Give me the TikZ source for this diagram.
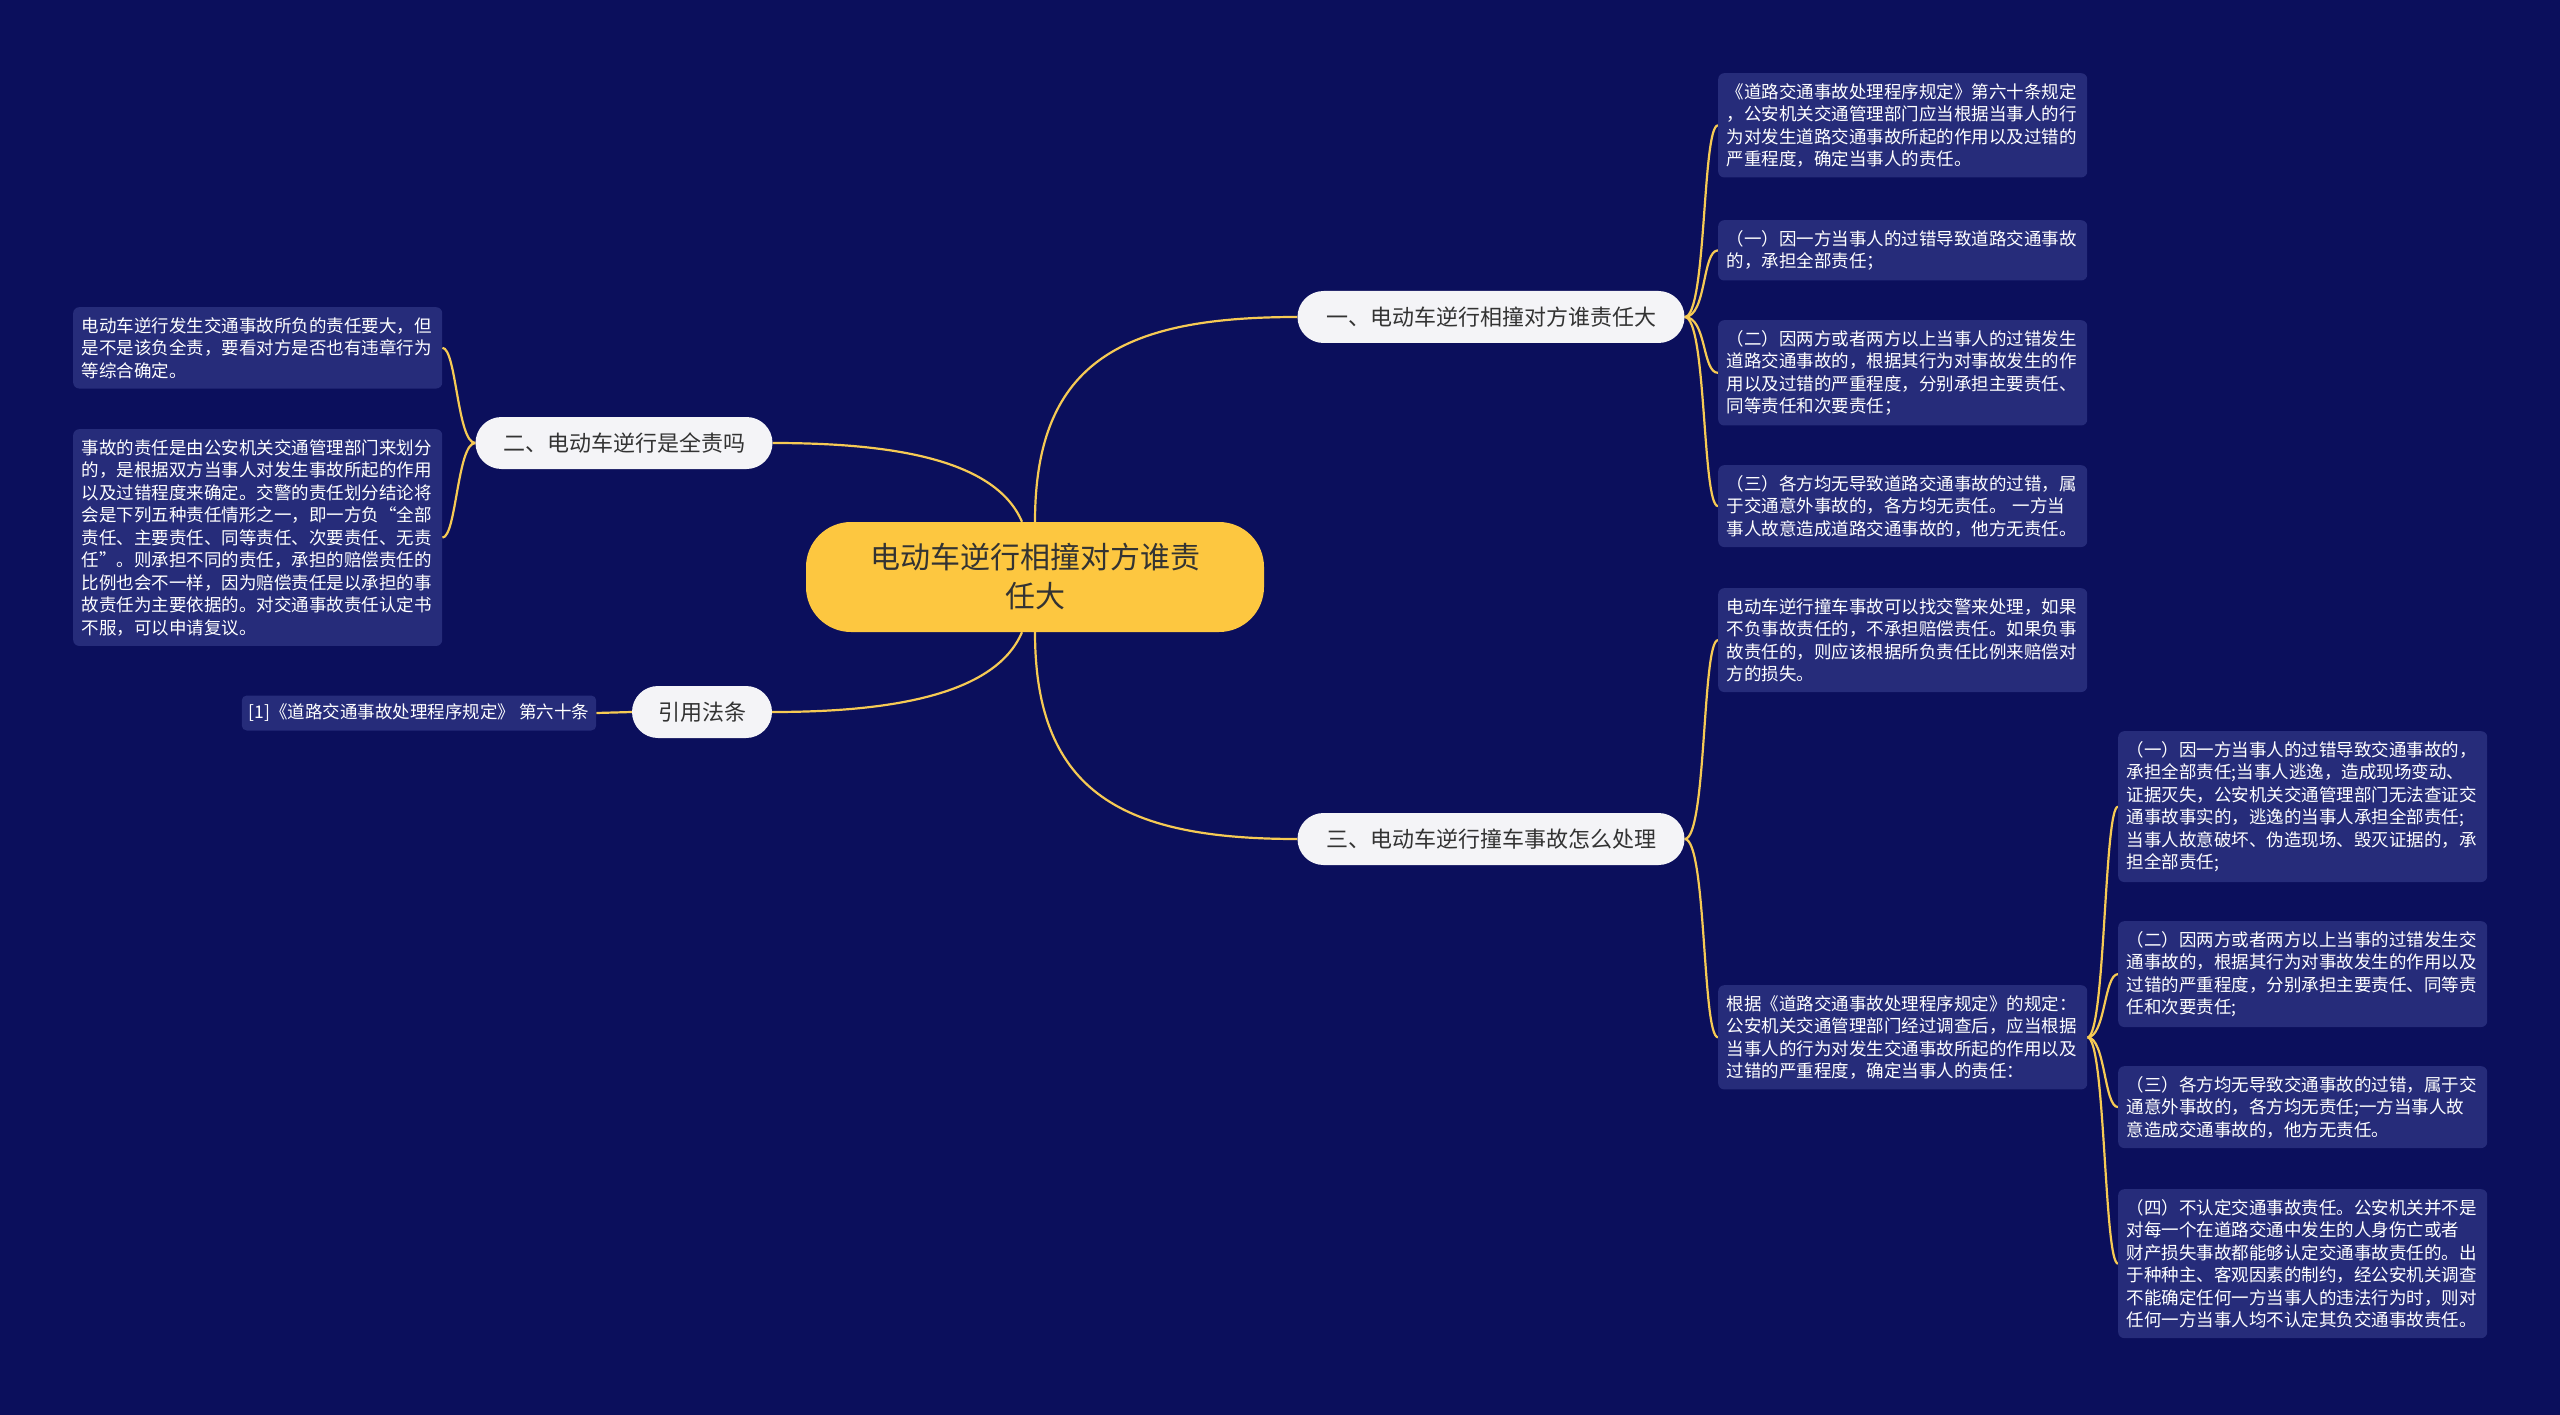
\documentclass[tikz,border=0pt]{standalone}
\usepackage{tikz}
\usepackage{fontspec}
\setmainfont{Noto Sans CJK SC}
\pgfdeclarelayer{back}
\pgfdeclarelayer{edges}
\pgfsetlayers{back,edges,main}
\definecolor{bgnavy}{RGB}{11,15,92}
\definecolor{leafcol}{RGB}{38,44,122}
\definecolor{goldline}{RGB}{246,202,84}
\definecolor{centralcol}{RGB}{253,199,64}
\definecolor{pillcol}{RGB}{244,244,247}
\definecolor{inkcol}{RGB}{51,51,51}
\begin{document}
\begin{tikzpicture}[x=1pt,y=-1pt,
  leafbox/.style={fill=leafcol, rounded corners=6pt, text=white, anchor=north west,
    text width=352pt, inner xsep=8.5pt, inner ysep=10pt, align=left,
    font=\fontsize{17.5}{22.5}\selectfont},
  pillbox/.style={fill=pillcol, rounded corners=26pt, text=inkcol, minimum height=52pt,
    inner xsep=0pt, font=\fontsize{22}{26}\selectfont},
  conn/.style={draw=goldline, line width=2.2pt},
]
\begin{pgfonlayer}{back}
\fill[bgnavy] (0,0) rectangle (2560,1415);
\end{pgfonlayer}
\useasboundingbox (0,0) rectangle (2560,1415);

% central
\node[fill=centralcol, rounded corners=45pt, minimum width=458pt, minimum height=110pt,
  align=center, text=inkcol, font=\fontsize{30}{39}\selectfont] (c) at (1035,577)
  {电动车逆行相撞对方谁责\\任大};

% main branches
\node[pillbox, minimum width=387pt] (b1) at (1491,317) {一、电动车逆行相撞对方谁责任大};
\node[pillbox, minimum width=297pt] (b2) at (624,443) {二、电动车逆行是全责吗};
\node[pillbox, minimum width=140pt] (b4) at (702,712) {引用法条};
\node[pillbox, minimum width=387pt] (b3) at (1491,839) {三、电动车逆行撞车事故怎么处理};

% branch 1 children
\node[leafbox] (r1) at (1718,73) {《道路交通事故处理程序规定》第六十条规定\\，公安机关交通管理部门应当根据当事人的行\\为对发生道路交通事故所起的作用以及过错的\\严重程度，确定当事人的责任。};
\node[leafbox] (r2) at (1718,220) {（一）因一方当事人的过错导致道路交通事故\\的，承担全部责任；};
\node[leafbox] (r3) at (1718,320) {（二）因两方或者两方以上当事人的过错发生\\道路交通事故的，根据其行为对事故发生的作\\用以及过错的严重程度，分别承担主要责任、\\同等责任和次要责任；};
\node[leafbox] (r4) at (1718,465) {（三）各方均无导致道路交通事故的过错，属\\于交通意外事故的，各方均无责任。 一方当\\事人故意造成道路交通事故的，他方无责任。};

% branch 3 children
\node[leafbox] (r5) at (1718,588) {电动车逆行撞车事故可以找交警来处理，如果\\不负事故责任的，不承担赔偿责任。如果负事\\故责任的，则应该根据所负责任比例来赔偿对\\方的损失。};
\node[leafbox] (r6) at (1718,985) {根据《道路交通事故处理程序规定》的规定：\\公安机关交通管理部门经过调查后，应当根据\\当事人的行为对发生交通事故所起的作用以及\\过错的严重程度，确定当事人的责任：};

% r6 children
\node[leafbox] (s1) at (2118,731) {（一）因一方当事人的过错导致交通事故的，\\承担全部责任;当事人逃逸，造成现场变动、\\证据灭失，公安机关交通管理部门无法查证交\\通事故事实的，逃逸的当事人承担全部责任;\\当事人故意破坏、伪造现场、毁灭证据的，承\\担全部责任;};
\node[leafbox] (s2) at (2118,921) {（二）因两方或者两方以上当事的过错发生交\\通事故的，根据其行为对事故发生的作用以及\\过错的严重程度，分别承担主要责任、同等责\\任和次要责任;};
\node[leafbox] (s3) at (2118,1066) {（三）各方均无导致交通事故的过错，属于交\\通意外事故的，各方均无责任;一方当事人故\\意造成交通事故的，他方无责任。};
\node[leafbox] (s4) at (2118,1189) {（四）不认定交通事故责任。公安机关并不是\\对每一个在道路交通中发生的人身伤亡或者\\财产损失事故都能够认定交通事故责任的。出\\于种种主、客观因素的制约，经公安机关调查\\不能确定任何一方当事人的违法行为时，则对\\任何一方当事人均不认定其负交通事故责任。};

% branch 2 children
\node[leafbox] (l1) at (73,307) {电动车逆行发生交通事故所负的责任要大，但\\是不是该负全责，要看对方是否也有违章行为\\等综合确定。};
\node[leafbox] (l2) at (73,429) {事故的责任是由公安机关交通管理部门来划分\\的，是根据双方当事人对发生事故所起的作用\\以及过错程度来确定。交警的责任划分结论将\\会是下列五种责任情形之一，即一方负“全部\\责任、主要责任、同等责任、次要责任、无责\\任”。则承担不同的责任，承担的赔偿责任的\\比例也会不一样，因为赔偿责任是以承担的事\\故责任为主要依据的。对交通事故责任认定书\\不服，可以申请复议。};

% citation
\node[fill=leafcol, rounded corners=5pt, text=white, inner xsep=7pt, minimum height=35pt,
  font=\fontsize{17.5}{22.5}\selectfont] (cite) at (419,713) {[1]《道路交通事故处理程序规定》 第六十条};

\begin{pgfonlayer}{edges}
\draw[conn] (c.north) to[out=90,in=180,out distance=163pt,in distance=171pt] (b1.west);
\draw[conn] (c.south) to[out=-90,in=180,out distance=163pt,in distance=171pt] (b3.west);
\draw[conn] ([xshift=-13pt]c.north) to[out=113,in=0,out distance=71pt,in distance=110pt] (b2.east);
\draw[conn] ([xshift=-13pt]c.south) to[out=-113,in=0,out distance=71pt,in distance=110pt] (b4.east);
\foreach \t in {r1,r2,r3,r4}
  \draw[conn] (b1.east) to[out=0,in=180,out distance=22pt,in distance=16pt] (\t.west);
\foreach \t in {r5,r6}
  \draw[conn] (b3.east) to[out=0,in=180,out distance=22pt,in distance=16pt] (\t.west);
\foreach \t in {s1,s2,s3,s4}
  \draw[conn] (r6.east) to[out=0,in=180,out distance=18pt,in distance=14pt] (\t.west);
\foreach \t in {l1,l2}
  \draw[conn] (b2.west) to[out=180,in=0,out distance=18pt,in distance=14pt] (\t.east);
\draw[conn] (b4.west) -- (cite.east);
\end{pgfonlayer}
\end{tikzpicture}
\end{document}
